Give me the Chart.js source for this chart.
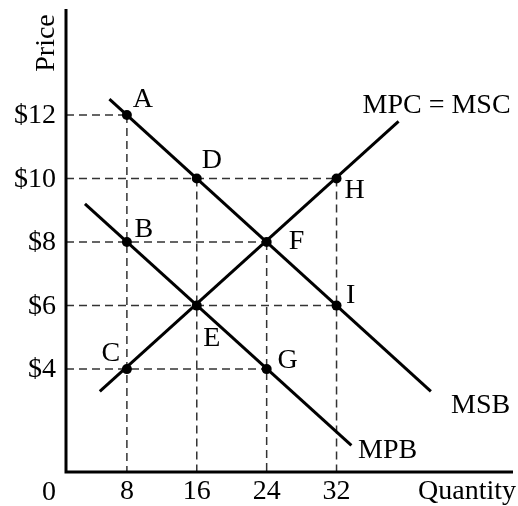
<!DOCTYPE html>
<html>
<head>
<meta charset="utf-8">
<script src="https://cdn.jsdelivr.net/npm/chart.js@4"></script>
<style>
  html, body { margin: 0; padding: 0; background: #fff; }
  #wrap { width: 518px; height: 506px; position: relative; }
</style>
</head>
<body>
<div id="wrap"><canvas id="chart"></canvas></div>
<script>
// values
const quantityTicks = [8, 16, 24, 32];
const priceTicks = [4, 6, 8, 10, 12];

// curve end points [quantity, price]
const msbLine = [[6.0, 12.5], [42.8, 3.3]];
const mpbLine = [[3.2, 9.2], [33.7, 1.6]];
const mpcLine = [[4.9, 3.3], [39.1, 11.8]];

// labelled points
const pointNames = ["A", "D", "H", "B", "F", "I", "E", "C", "G"];
const pointQty   = [8, 16, 32, 8, 24, 32, 16, 8, 24];
const pointPrice = [12, 10, 10, 8, 8, 6, 6, 4, 4];

// dashed guides: horizontal from the price axis, vertical down to the quantity axis
const hGuides = [[8, 12], [32, 10], [24, 8], [32, 6], [24, 4]];
const vGuides = [[8, 12], [16, 10], [24, 8], [32, 10]];

const curveNames = ["MPC = MSC", "MSB", "MPB"];
const curveLabelAt = [[43.45, 12.3], [48.5, 2.86], [37.85, 1.42]];

const X_MIN = 1.03, X_MAX = 52.2, Y_MIN = 0.76, Y_MAX = 15.34;
const FONT = '"Liberation Serif", "Times New Roman", serif';

const toPts = arr => arr.map(p => ({ x: p[0], y: p[1] }));

// label offsets in px from each point
const labelOffset = {
  A: [16, -15], D: [15, -18], H: [18, 12], B: [17, -12], F: [30, 0],
  I: [14, -10], E: [15, 33], C: [-16, -15], G: [21, -8]
};

const datasets = [];
datasets.push({
  label: "points",
  data: pointQty.map((q, i) => ({ x: q, y: pointPrice[i] })),
  pointRadius: 5, pointBackgroundColor: "#000", pointBorderWidth: 0,
  showLine: false, order: 0
});
[msbLine, mpbLine, mpcLine].forEach((l, i) => {
  datasets.push({
    label: ["MSB", "MPB", "MPC"][i],
    data: toPts(l),
    showLine: true, borderColor: "#000", borderWidth: 3,
    pointRadius: 0, order: 1
  });
});
hGuides.forEach(g => {
  datasets.push({
    data: [{ x: X_MIN, y: g[1] }, { x: g[0], y: g[1] }],
    showLine: true, borderColor: "#333", borderWidth: 1.5, borderDash: [8, 5],
    pointRadius: 0, order: 2
  });
});
vGuides.forEach(g => {
  datasets.push({
    data: [{ x: g[0], y: g[1] }, { x: g[0], y: Y_MIN }],
    showLine: true, borderColor: "#333", borderWidth: 1.5, borderDash: [8, 5],
    pointRadius: 0, order: 2
  });
});

const axesAndText = {
  id: "axesAndText",
  afterDraw(chart) {
    const ctx = chart.ctx;
    const xs = chart.scales.x, ys = chart.scales.y;
    const x0 = xs.getPixelForValue(X_MIN), y0 = ys.getPixelForValue(Y_MIN);
    ctx.save();
    // axes
    ctx.strokeStyle = "#000";
    ctx.lineWidth = 3;
    ctx.beginPath();
    ctx.moveTo(x0, ys.getPixelForValue(Y_MAX));
    ctx.lineTo(x0, y0);
    ctx.lineTo(xs.getPixelForValue(X_MAX), y0);
    ctx.stroke();

    ctx.fillStyle = "#000";
    ctx.font = "28px " + FONT;
    ctx.textBaseline = "middle";
    // price ticks
    ctx.textAlign = "right";
    priceTicks.forEach(p => ctx.fillText("$" + p, 56, ys.getPixelForValue(p) + 1));
    // quantity ticks
    ctx.textAlign = "center";
    quantityTicks.forEach(q => ctx.fillText(String(q), xs.getPixelForValue(q), 492));
    ctx.fillText("0", 49, 493);
    ctx.fillText("Quantity", 467, 492);

    // point labels
    pointNames.forEach((n, i) => {
      const o = labelOffset[n];
      ctx.fillText(n, xs.getPixelForValue(pointQty[i]) + o[0], ys.getPixelForValue(pointPrice[i]) + o[1]);
    });

    // curve labels
    curveNames.forEach((n, i) => {
      ctx.fillText(n, xs.getPixelForValue(curveLabelAt[i][0]), ys.getPixelForValue(curveLabelAt[i][1]));
    });

    // rotated axis title
    ctx.translate(47, 43);
    ctx.rotate(-Math.PI / 2);
    ctx.fillText("Price", 0, 0);
    ctx.restore();
  }
};

new Chart(document.getElementById("chart"), {
  type: "scatter",
  data: { datasets },
  options: {
    responsive: true,
    maintainAspectRatio: false,
    animation: false,
    layout: { padding: { left: 66, right: 0, top: 9, bottom: 34 } },
    plugins: { legend: { display: false }, tooltip: { enabled: false } },
    scales: {
      x: { type: "linear", min: X_MIN, max: X_MAX, display: false },
      y: { type: "linear", min: Y_MIN, max: Y_MAX, display: false }
    },
    clip: false
  },
  plugins: [axesAndText]
});
</script>
</body>
</html>
